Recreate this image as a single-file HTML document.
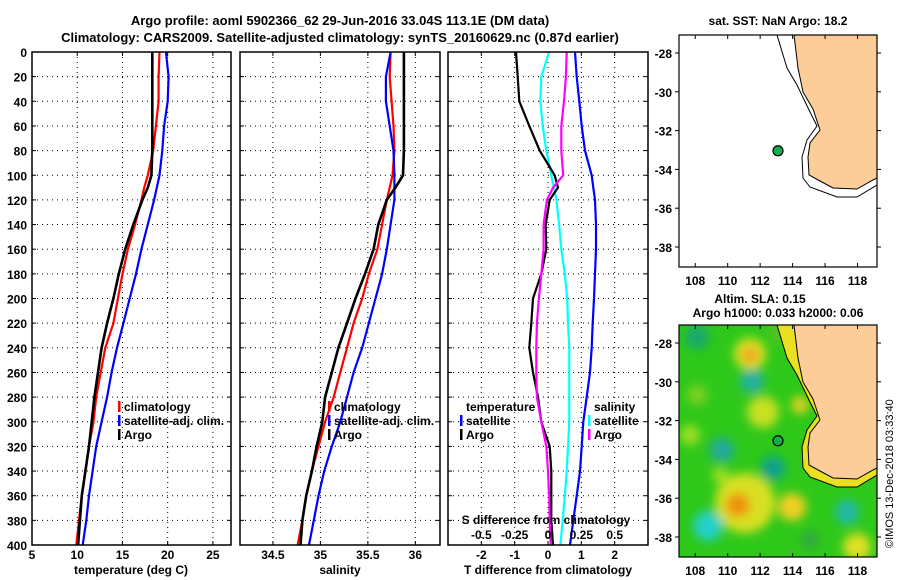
<!DOCTYPE html>
<html><head><meta charset="utf-8"><style>
html,body{margin:0;padding:0;background:#fff;}
svg{display:block;font-family:"Liberation Sans",sans-serif;font-weight:bold;}
</style></head><body>
<svg id="chart" width="900" height="580" viewBox="0 0 900 580">
<text x="340" y="25" font-size="13" text-anchor="middle">Argo profile: aoml 5902366_62 29-Jun-2016 33.04S 113.1E (DM data)</text>
<text x="340" y="42" font-size="13" text-anchor="middle">Climatology: CARS2009. Satellite-adjusted climatology: synTS_20160629.nc (0.87d earlier)</text>
<text x="778" y="25" font-size="12" text-anchor="middle">sat. SST: NaN Argo: 18.2</text>
<text x="760" y="303" font-size="12" text-anchor="middle">Altim. SLA: 0.15</text>
<text x="778" y="317" font-size="12" text-anchor="middle">Argo h1000: 0.033 h2000: 0.06</text>
<text transform="translate(893,548) rotate(-90)" font-size="11" font-weight="normal">©IMOS 13-Dec-2018 03:33:40</text>
<g id="g"></g>
</svg>
<script>
const depths = [0,20,40,60,80,100,110,120,140,160,180,200,220,240,260,280,300,320,340,360,380,400];
const tempArgo = [18.3,18.3,18.3,18.3,18.3,18.2,17.8,17.2,16.2,15.3,14.6,14.0,13.3,12.7,12.3,11.9,11.6,11.3,10.9,10.5,10.3,10.1];
const tempClim = [19.1,19.0,19.0,18.7,18.4,17.8,17.4,17.1,16.4,15.6,15.0,14.5,14.0,13.1,12.6,12.1,11.8,11.3,10.9,10.5,10.2,9.9];
const tempSat  = [19.8,20.1,20.0,19.6,19.4,19.1,18.8,18.5,17.8,17.1,16.5,15.8,15.1,14.4,13.8,13.3,12.7,12.1,11.7,11.3,11.0,10.6];
const salArgo = [35.88,35.88,35.88,35.88,35.88,35.87,35.79,35.70,35.61,35.56,35.47,35.37,35.28,35.19,35.12,35.05,35.02,34.96,34.91,34.85,34.81,34.79];
const salClim = [35.74,35.73,35.75,35.77,35.78,35.76,35.73,35.70,35.65,35.60,35.51,35.44,35.35,35.28,35.21,35.14,35.05,34.98,34.91,34.85,34.81,34.76];
const salSat  = [35.74,35.69,35.69,35.73,35.77,35.78,35.78,35.78,35.74,35.70,35.65,35.58,35.51,35.44,35.35,35.28,35.21,35.12,35.04,34.98,34.93,34.88];
const dTArgo = [-0.96,-0.91,-0.86,-0.56,-0.25,0.2,0.3,0.05,-0.07,-0.05,-0.2,-0.45,-0.5,-0.56,-0.45,-0.3,-0.2,0.05,0.1,0.1,0.1,0.15];
const dTSat  = [0.81,0.86,0.94,1.01,1.11,1.31,1.36,1.41,1.44,1.44,1.41,1.38,1.34,1.31,1.26,1.16,1.06,1.01,0.96,0.86,0.76,0.66];
const dSSat  = [0.008,-0.05,-0.058,-0.04,-0.013,0.025,0.045,0.063,0.083,0.10,0.126,0.144,0.15,0.16,0.16,0.16,0.16,0.15,0.14,0.126,0.11,0.093];
const dSArgo = [0.14,0.134,0.12,0.10,0.10,0.114,0.038,-0.008,-0.033,-0.033,-0.05,-0.068,-0.083,-0.088,-0.088,-0.083,-0.05,-0.013,0,0.008,0.013,0.02];
const depthTicks = [0,20,40,60,80,100,120,140,160,180,200,220,240,260,280,300,320,340,360,380,400];
const tempTicks = [5,10,15,20,25];
const salTicks = [34.5,35,35.5,36];
const salTickLabels = ["34.5","35","35.5","36"];
const dTTicks = [-2,-1,0,1,2];
const dSTicks = [-0.5,-0.25,0,0.25,0.5];
const dSTickLabels = ["-0.5","-0.25","0","0.25","0.5"];
const lonTicks = [108,110,112,114,116,118];
const latTicks = [-28,-30,-32,-34,-36,-38];
const argoLon = [113.1];
const argoLat = [-33.04];

const NS='http://www.w3.org/2000/svg';
const G=document.getElementById('g');
function el(tag,attrs,parent,text){const e=document.createElementNS(NS,tag);for(const k in attrs)e.setAttribute(k,attrs[k]);if(text!==undefined)e.textContent=text;(parent||G).appendChild(e);return e;}
const Y0=52,Y1=545;
const yD=d=>Y0+(d/400)*(Y1-Y0);
function mkX(x0,x1,v0,v1){return v=>x0+(v-v0)/(v1-v0)*(x1-x0);}
const panels=[
 {x0:32,x1:231,v0:5,v1:27,name:'temperature'},
 {x0:240,x1:440,v0:34.153,v1:36.26,name:'salinity'},
 {x0:448,x1:648,v0:-3,v1:3,name:'difference'}];
panels.forEach((p,i)=>{p.sx=mkX(p.x0,p.x1,p.v0,p.v1);});
const xT=panels[0].sx,xS=panels[1].sx,xD=panels[2].sx,xDS=v=>xD(v*4);

function grid(p,ticks){
 const gg=el('g',{});
 
 
 ticks.forEach(t=>{const x=p.sx(t);el('line',{x1:x,x2:x,y1:Y0,y2:Y1,stroke:'#000','stroke-width':1,'stroke-dasharray':'1,4'},gg);
  el('line',{x1:x,x2:x,y1:Y0,y2:Y0+4,stroke:'#000'},gg);el('line',{x1:x,x2:x,y1:Y1,y2:Y1-4,stroke:'#000'},gg);});
 depthTicks.forEach(d=>{const y=yD(d);el('line',{x1:p.x0,x2:p.x1,y1:y,y2:y,stroke:'#000','stroke-width':1,'stroke-dasharray':'1,4'},gg);
  el('line',{x1:p.x0,x2:p.x0+4,y1:y,y2:y,stroke:'#000'},gg);el('line',{x1:p.x1,x2:p.x1-4,y1:y,y2:y,stroke:'#000'},gg);});
}
grid(panels[0],tempTicks);grid(panels[1],salTicks);grid(panels[2],dTTicks);

function line(xs,xf,color,name,w){
 const pts=depths.map((d,i)=>xf(xs[i]).toFixed(1)+','+yD(d).toFixed(1)).join(' ');
 const pl=el('polyline',{points:pts,fill:'none',stroke:color,'stroke-width':w||2.2});
 
 
}
line(tempClim,xT,'#f00','temp-climatology-line');
line(tempSat,xT,'#00f','temp-satellite-line');
line(tempArgo,xT,'#000','temp-argo-line',2.6);
line(salClim,xS,'#f00','sal-climatology-line');
line(salSat,xS,'#00f','sal-satellite-line');
line(salArgo,xS,'#000','sal-argo-line',2.6);
line(dSSat,xDS,'#0ff','sdiff-satellite-line');
line(dTSat,xD,'#00f','tdiff-satellite-line');
line(dTArgo,xD,'#000','tdiff-argo-line');
line(dSArgo,xDS,'#f0f','sdiff-argo-line');

panels.forEach(p=>{const r=el('rect',{x:p.x0,y:Y0,width:p.x1-p.x0,height:Y1-Y0,fill:'none',stroke:'#000','stroke-width':1.5});
 
 });

depthTicks.forEach(d=>{const t=el('text',{x:27,y:yD(d)+5,'font-size':12,'text-anchor':'end'},G,String(d));
 
 });
tempTicks.forEach(v=>{const t=el('text',{x:xT(v),y:559,'font-size':12,'text-anchor':'middle'},G,String(v));
 
 });
salTicks.forEach((v,i)=>{const t=el('text',{x:xS(v),y:559,'font-size':12,'text-anchor':'middle'},G,salTickLabels[i]);
 
 });
dTTicks.forEach(v=>{const t=el('text',{x:xD(v),y:559,'font-size':12,'text-anchor':'middle'},G,String(v));
 
 });
dSTicks.forEach((v,i)=>{const t=el('text',{x:xDS(v),y:539,'font-size':12,'text-anchor':'middle'},G,dSTickLabels[i]);
 
 });
[['temperature (deg C)',131,'temp-axis-title'],['salinity',340,'sal-axis-title'],['T difference from climatology',548,'tdiff-axis-title']].forEach(a=>{
 const t=el('text',{x:a[1],y:574,'font-size':12,'text-anchor':'middle'},G,a[0]);
 
 });
{const t=el('text',{x:546,y:524,'font-size':12,'text-anchor':'middle'},G,'S difference from climatology');
 
 }

function legend(x,y,items,name){
 const gg=el('g',{});
 
 
 items.forEach((it,i)=>{const yy=y+i*14;
  if(it[1])el('rect',{x:x,y:yy-10,width:2.5,height:11,fill:it[1]},gg);
  el('text',{x:x+6,y:yy,'font-size':12},gg,it[0]);});
}
legend(118,411,[['climatology','#f00'],['satellite-adj. clim.','#00f'],['Argo','#000']],'temp-legend');
legend(328,411,[['climatology','#f00'],['satellite-adj. clim.','#00f'],['Argo','#000']],'sal-legend');
legend(460,411,[['temperature',null],['satellite','#00f'],['Argo','#000']],'tdiff-legend');
legend(588,411,[['salinity',null],['satellite','#0ff'],['Argo','#f0f']],'sdiff-legend');

// Maps
function map(top,bottom,heat,name){
 const mx=mkX(679,877,107.0,119.2);
 const my=v=>top+18+(-28-v)/10*(bottom-top-38);
 const gg=el('g',{});
 
 
 const cid='clip'+name;
 const cp=el('clipPath',{id:cid},gg);el('rect',{x:679,y:top,width:198,height:bottom-top},cp);
 const inner=el('g',{'clip-path':'url(#'+cid+')'},gg);
 if(heat){
  el('rect',{x:679,y:top,width:198,height:bottom-top,fill:'#2ec81a'},inner);
  const f=el('filter',{id:'blur'+name,x:'-50%',y:'-50%',width:'200%',height:'200%'},gg);
  el('feGaussianBlur',{stdDeviation:5},f);
  const b=el('g',{filter:'url(#blur'+name+')'},inner);
  const blobs=[[750,29,16,'#e0e020'],[750,30,8,'#f0a020'],[752,56,12,'#20b0a0'],[697,12,12,'#18a870'],
   [763,87,16,'#c8e020'],[697,70,10,'#80d020'],[722,125,12,'#20a8a0'],[773,143,12,'#10a090'],
   [745,178,30,'#d8e020'],[738,180,12,'#f09010'],[792,182,14,'#f0d020'],[708,201,15,'#20d0c8'],
   [847,187,12,'#20b8b0'],[857,222,14,'#e0e020'],[800,80,9,'#e0d020'],[835,40,9,'#a0d020'],[780,8,10,'#60c020'],[810,215,9,'#30a840'],
   [720,150,8,'#a0e020'],[690,110,10,'#a0e020']];
  blobs.forEach(q=>el('circle',{cx:q[0],cy:q[1]+top,r:q[2],fill:q[3]},b));
  el('path',{d:shelf(top,true),fill:'#e8e020'},inner);
 }
 el('path',{d:shelf(top,false),fill:'none',stroke:'#000','stroke-width':1},inner);
 el('path',{d:land(top),fill:'#fccc99',stroke:'#000','stroke-width':1},inner);
 el('rect',{x:679,y:top,width:198,height:bottom-top,fill:'none',stroke:'#000','stroke-width':1.2},gg);
 lonTicks.forEach(v=>{const x=mx(v);el('line',{x1:x,x2:x,y1:top,y2:top+4,stroke:'#000'},gg);el('line',{x1:x,x2:x,y1:bottom,y2:bottom-4,stroke:'#000'},gg);
  el('text',{x:x,y:bottom+18,'font-size':12,'text-anchor':'middle'},gg,String(v));});
 latTicks.forEach(v=>{const y=my(v);el('line',{x1:679,x2:675,y1:y,y2:y,stroke:'#000'},gg);el('line',{x1:877,x2:881,y1:y,y2:y,stroke:'#000'},gg);
  el('text',{x:672,y:y+5,'font-size':12,'text-anchor':'end'},gg,String(v));});
 const dot=el('circle',{cx:mx(argoLon[0]),cy:my(argoLat[0]),r:5,fill:'#10b050',stroke:'#000','stroke-width':1.2},gg);
 
 
}
function land(top){const o=top-35;const P=[[794,35],[798,68],[803,92],[813,109],[820,130],[810,143],[808,157],[809,175],[820,181],[833,188],[857,189],[873,180],[877,178],[877,35]];
 return 'M'+P.map(p=>p[0]+','+(p[1]+o)).join(' L')+'Z';}
function shelf(top,closed){const o=top-35;const P=[[777,35],[787,68],[797,85],[810,112],[817,126],[807,140],[802,157],[803,178],[810,187],[837,197],[857,197],[877,185]];
 let d='M'+P.map(p=>p[0]+','+(p[1]+o)).join(' L');
 if(closed)d+=' L877,35 Z';return d;}
map(35,267,false,'sst-map');
map(325,557,true,'sla-map');
</script>
</body></html>
